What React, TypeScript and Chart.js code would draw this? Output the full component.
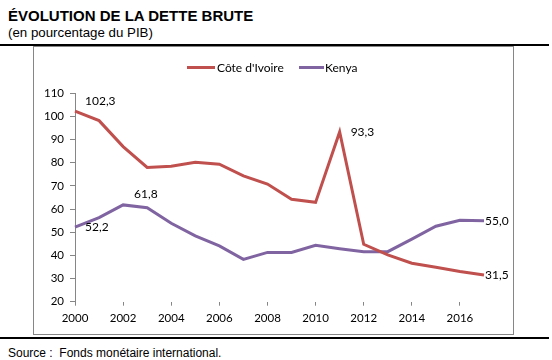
import React, { useEffect, useRef } from "react";
import { Chart, registerables } from "chart.js";

Chart.register(...registerables);

const years = ["2000","2001","2002","2003","2004","2005","2006","2007","2008","2009","2010","2011","2012","2013","2014","2015","2016","2017"];
const coteIvoire = [102.3, 98.2, 87.0, 78.0, 78.5, 80.2, 79.4, 74.3, 70.8, 64.2, 62.9, 93.3, 44.8, 40.2, 36.6, 34.9, 33.0, 31.5];
const kenya = [52.2, 56.3, 61.8, 60.6, 53.9, 48.4, 44.1, 38.3, 41.3, 41.3, 44.4, 42.9, 41.6, 41.6, 47.0, 52.6, 55.2, 55.0];
const seriesNames = ["Côte d'Ivoire", "Kenya"];
const yTicks = [20, 30, 40, 50, 60, 70, 80, 90, 100, 110];
// labelled points: [dataset index, point index]
const labelledPoints = [[0, 0], [0, 11], [0, 17], [1, 0], [1, 2], [1, 17]];
const labelOffsets = [[10, -10], [11, 0], [1, 0], [10, 0], [11, -11], [1, 0]];

const RED = "#C0504D";
const PURPLE = "#8064A2";
const AXIS = "#868686";
const FONT = "Lato, 'DejaVu Sans', sans-serif";

const fmt = (v: number) => v.toFixed(1).replace(".", ",");

const labelPlugin = {
  id: "pointLabels",
  afterDatasetsDraw(chart: any) {
    const ctx = chart.ctx;
    ctx.save();
    ctx.font = `12px ${FONT}`;
    ctx.fillStyle = "#000";
    ctx.textAlign = "left";
    ctx.textBaseline = "middle";
    labelledPoints.forEach(([d, i], k) => {
      const el = chart.getDatasetMeta(d).data[i];
      const v = chart.data.datasets[d].data[i] as number;
      ctx.fillText(fmt(v), el.x + labelOffsets[k][0], el.y + labelOffsets[k][1]);
    });
    ctx.restore();
  },
};

export default function App() {
  const ref = useRef<HTMLCanvasElement>(null);
  useEffect(() => {
    if (!ref.current) return;
    const chart = new Chart(ref.current, {
      type: "line",
      data: {
        labels: years,
        datasets: [
          { label: seriesNames[0], data: coteIvoire, borderColor: RED, backgroundColor: RED, borderWidth: 3, pointRadius: 0, tension: 0 },
          { label: seriesNames[1], data: kenya, borderColor: PURPLE, backgroundColor: PURPLE, borderWidth: 3, pointRadius: 0, tension: 0 },
        ],
      },
      options: {
        animation: false,
        responsive: false,
        maintainAspectRatio: false,
        layout: { padding: { top: 46.3, right: 29, left: 0, bottom: 0 } },
        plugins: { legend: { display: false }, tooltip: { enabled: false }, title: { display: false } },
        scales: {
          x: {
            type: "category",
            offset: false,
            border: { display: false },
            grid: {
              drawOnChartArea: false,
              drawTicks: true,
              tickLength: 4,
              color: (c: any) => (c.index % 2 === 0 ? AXIS : "rgba(0,0,0,0)"),
            },
            ticks: {
              autoSkip: false,
              maxRotation: 0,
              padding: 6,
              color: "#000",
              font: { family: FONT, size: 11.5 },
              callback: (_v: any, i: number) => (i % 2 === 0 ? years[i] : ""),
            },
            afterFit: (s: any) => { s.height = 32.3; },
          },
          y: {
            min: 20,
            max: 110,
            border: { display: true, color: AXIS, width: 1 },
            grid: { drawOnChartArea: false, drawTicks: true, tickLength: 5, color: AXIS },
            afterBuildTicks: (s: any) => { s.ticks = yTicks.map((v) => ({ value: v })); },
            ticks: { padding: 6, color: "#000", font: { family: FONT, size: 11.5 } },
            afterFit: (s: any) => { s.width = 41; },
          },
        },
      },
      plugins: [labelPlugin],
    });
    return () => chart.destroy();
  }, []);

  const abs = (o: React.CSSProperties): React.CSSProperties => ({ position: "absolute", ...o });
  return (
    <div style={abs({ left: 0, top: 0, width: 552, height: 360, background: "#fff", fontFamily: "'Liberation Sans', Arial, sans-serif", color: "#000" })}>
      <div style={abs({ left: 8, top: 8, fontSize: 15, lineHeight: "15px", fontWeight: "bold", whiteSpace: "nowrap" })}>ÉVOLUTION DE LA DETTE BRUTE</div>
      <div style={abs({ left: 8, top: 26, fontSize: 13.3, lineHeight: "13px", whiteSpace: "nowrap" })}>(en pourcentage du PIB)</div>
      <div style={abs({ left: 0, top: 44, width: 549, height: 2, background: "#000" })} />
      <div style={abs({ left: 33, top: 46, width: 481, height: 289, border: `1px solid ${AXIS}`, boxSizing: "border-box" })} />
      <canvas ref={ref} width={479} height={287} style={abs({ left: 34, top: 47, width: 479, height: 287 })} />
      <div style={abs({ left: 187, top: 66, width: 28, height: 3, background: RED })} />
      <div style={abs({ left: 217, top: 60, fontFamily: FONT, fontSize: 12, lineHeight: "15px", whiteSpace: "nowrap" })}>{seriesNames[0]}</div>
      <div style={abs({ left: 299, top: 66, width: 25, height: 3, background: PURPLE })} />
      <div style={abs({ left: 325, top: 60, fontFamily: FONT, fontSize: 12, lineHeight: "15px", whiteSpace: "nowrap" })}>{seriesNames[1]}</div>
      <div style={abs({ left: 0, top: 337, width: 549, height: 2, background: "#000" })} />
      <div style={abs({ left: 8, top: 346.5, fontSize: 12, lineHeight: "12px", whiteSpace: "pre" })}>Source :  Fonds monétaire international.</div>
    </div>
  );
}
